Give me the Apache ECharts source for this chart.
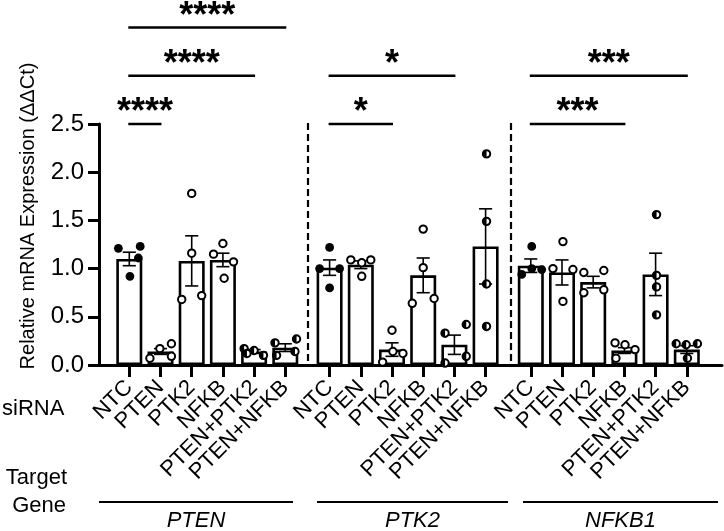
<!doctype html>
<html>
<head>
<meta charset="utf-8">
<title>siRNA knockdown qPCR</title>
<style>
html, body { margin: 0; padding: 0; background: #fff; }
#main { width: 724px; height: 531px; }
</style>
</head>
<body>
<div id="main"></div>
<script src="https://cdn.jsdelivr.net/npm/echarts@6/dist/echarts.min.js"></script>
<script>
// ---- data ----
var sirna = ['NTC', 'PTEN', 'PTK2', 'NFKB', 'PTEN+PTK2', 'PTEN+NFKB'];
var genes = ['PTEN', 'PTK2', 'NFKB1'];
var yTicks = [0, 0.5, 1.0, 1.5, 2.0, 2.5];

var meanPTEN = [1.10, 0.14, 1.08, 1.09, 0.14, 0.18];
var semPTEN  = [0.07, 0.03, 0.26, 0.07, 0.02, 0.04];
var ptsPTEN  = [[1.21, 1.23, 1.11, 0.92], [0.07, 0.17, 0.22, 0.09], [1.78, 1.16, 0.68, 0.72],
                [1.15, 1.26, 1.07, 0.90], [0.17, 0.12, 0.15, 0.10], [0.23, 0.10, 0.27, 0.14]];

var meanPTK2 = [1.01, 1.04, 0.16, 0.93, 0.21, 1.23];
var semPTK2  = [0.08, 0.04, 0.07, 0.18, 0.10, 0.39];
var ptsPTK2  = [[1.22, 1.00, 1.00, 0.80], [1.09, 1.06, 1.09, 0.92], [0.36, 0.03, 0.14, 0.12],
                [1.41, 1.01, 0.64, 0.69], [0.33, 0.42, 0.09, 0.02], [2.19, 1.49, 0.84, 0.40]];

var meanNFKB1 = [1.03, 0.96, 0.86, 0.15, 0.94, 0.16];
var semNFKB1  = [0.07, 0.13, 0.06, 0.03, 0.22, 0.04];
var ptsNFKB1  = [[1.23, 0.94, 1.00, 0.99], [1.28, 1.00, 0.99, 0.66], [0.96, 0.98, 0.75, 0.78],
                 [0.23, 0.21, 0.16, 0.07], [1.56, 0.93, 0.81, 0.52], [0.22, 0.21, 0.22, 0.07]];

// significance brackets: [from siRNA, to siRNA, height, stars]
var sigPTEN  = [[0, 5, 3.5, '****'], [0, 4, 3.0, '****'], [0, 1, 2.5, '****']];
var sigPTK2  = [[0, 4, 3.0, '*'], [0, 2, 2.5, '*']];
var sigNFKB1 = [[0, 5, 3.0, '***'], [0, 3, 2.5, '***']];

// ---- layout / style ----
// marker per siRNA: 0 filled, 1 open, 2 half filled
var markerKind = [0, 1, 1, 1, 2, 2];
// horizontal spread of replicate dots inside a bar (category units)
var jitPTEN  = [[-0.35, 0.35, 0.29, 0.02], [-0.34, -0.02, 0.35, 0.35], [0, 0, -0.32, 0.32],
                [-0.3, 0, 0.34, 0.04], [-0.32, -0.23, 0, 0.3], [-0.33, -0.28, 0.36, 0.31]];
var jitPTK2  = [[0, -0.32, 0.32, 0], [-0.32, 0.03, 0.32, 0.03], [0, -0.3, 0.03, 0.35],
                [0, 0, -0.35, 0.35], [-0.3, 0.38, 0.38, -0.3], [0.03, 0.03, 0.03, 0.03]];
var jitNFKB1 = [[0.03, -0.29, 0.03, 0.35], [0.03, -0.29, 0.35, 0.03], [-0.3, 0.34, -0.3, 0.34],
                [-0.3, 0.02, 0.34, -0.27], [0.03, 0.03, 0.03, 0.03], [-0.34, -0.02, 0.34, 0.02]];

var FONT = "'Liberation Sans', Arial, sans-serif";
var TOP = 124, BOTTOM = 166, AXL = 99;
var groupLeft = [113.7, 314.0, 515.2];
var groupW = 187.2;
var dashX = [308, 511];
var geneLine = [[99, 293], [317, 508], [523, 718]];

var groups = [
    { mean: meanPTEN, sem: semPTEN, pts: ptsPTEN, jit: jitPTEN, sig: sigPTEN },
    { mean: meanPTK2, sem: semPTK2, pts: ptsPTK2, jit: jitPTK2, sig: sigPTK2 },
    { mean: meanNFKB1, sem: semNFKB1, pts: ptsNFKB1, jit: jitNFKB1, sig: sigNFKB1 }
];

function renderErr(params, api) {
    var x = api.value(0), m = api.value(1), s = api.value(2);
    var top = api.coord([x, m + s]), bot = api.coord([x, m - s]);
    var l = api.coord([x - 0.21, m])[0], r = api.coord([x + 0.21, m])[0];
    var st = { stroke: '#000', lineWidth: 1.6 };
    return { type: 'group', children: [
        { type: 'line', shape: { x1: top[0], y1: top[1], x2: bot[0], y2: bot[1] }, style: st },
        { type: 'line', shape: { x1: l, y1: top[1], x2: r, y2: top[1] }, style: st },
        { type: 'line', shape: { x1: l, y1: bot[1], x2: r, y2: bot[1] }, style: st }
    ] };
}

function renderPt(params, api) {
    var p = api.coord([api.value(0), api.value(1)]);
    var kind = api.value(2);
    if (kind === 0) {
        return { type: 'circle', shape: { cx: p[0], cy: p[1], r: 4.4 }, style: { fill: '#000' } };
    }
    var ring = { type: 'circle', shape: { cx: p[0], cy: p[1], r: 3.7 },
                 style: { fill: '#fff', stroke: '#000', lineWidth: 2 } };
    if (kind === 1) return ring;
    return { type: 'group', children: [ring,
        { type: 'sector', shape: { cx: p[0], cy: p[1], r0: 0, r: 3.9,
            startAngle: Math.PI / 2, endAngle: Math.PI * 1.5, clockwise: true },
          style: { fill: '#000' } }
    ] };
}

function makeSig(list) {
    return function (params, api) {
        var a = api.coord([api.value(0), api.value(2)]);
        var b = api.coord([api.value(1), api.value(2)]);
        return { type: 'group', children: [
            { type: 'line', shape: { x1: a[0] - 1, y1: a[1], x2: b[0] + 1, y2: b[1] },
              style: { stroke: '#000', lineWidth: 2.5 } },
            { type: 'text', x: (a[0] + b[0]) / 2, y: a[1] - 11,
              style: { text: list[params.dataIndex][3], font: 'bold 36px ' + FONT, fill: '#000',
                       align: 'center', verticalAlign: 'middle', textAlign: 'center', textVerticalAlign: 'middle' } }
        ] };
    };
}

var grid = [{ left: AXL, right: 2, top: TOP, bottom: BOTTOM }];
var xAxis = [{
    type: 'value', gridIndex: 0, min: 0, max: 1,
    axisLine: { show: true, lineStyle: { color: '#000', width: 3 } },
    axisTick: { show: false }, axisLabel: { show: false }, splitLine: { show: false }
}];
var yAxis = [{
    type: 'value', gridIndex: 0, min: 0, max: 2.5, interval: 0.5,
    axisLine: { show: true, lineStyle: { color: '#000', width: 3 } },
    axisTick: { show: true, length: 11, lineStyle: { color: '#000', width: 3 } },
    axisLabel: { color: '#000', fontSize: 24, fontFamily: FONT, margin: 15,
                 customValues: yTicks, formatter: function (v) { return v.toFixed(1); } },
    splitLine: { show: false }
}];
var series = [];

groups.forEach(function (g, gi) {
    grid.push({ left: groupLeft[gi], width: groupW, top: TOP, bottom: BOTTOM });
    var gIdx = gi + 1;
    xAxis.push({
        type: 'category', gridIndex: gIdx, data: sirna,
        axisLine: { show: false },
        axisTick: { show: true, alignWithLabel: true, length: 12, lineStyle: { color: '#000', width: 3 } },
        axisLabel: { interval: 0, rotate: 45, color: '#000', fontSize: 22, fontFamily: FONT, margin: 19 }
    });
    yAxis.push({ type: 'value', gridIndex: gIdx, min: 0, max: 2.5, show: false });
    var catAxis = xAxis.length - 1;
    xAxis.push({ type: 'value', gridIndex: gIdx, min: -0.5, max: 5.5, show: false });
    var valAxis = xAxis.length - 1;

    series.push({
        type: 'bar', xAxisIndex: catAxis, yAxisIndex: gIdx, data: g.mean, barWidth: 26,
        itemStyle: { color: '#fff', borderColor: '#000', borderWidth: 2.6 }, z: 2, silent: true
    });
    series.push({
        type: 'custom', xAxisIndex: valAxis, yAxisIndex: gIdx, renderItem: renderErr, z: 3, silent: true,
        encode: { x: 0, y: 1 },
        data: g.mean.map(function (m, i) { return [i, m, g.sem[i]]; })
    });
    var pdata = [];
    g.pts.forEach(function (arr, i) {
        arr.forEach(function (v, k) { pdata.push([i + g.jit[i][k], v, markerKind[i]]); });
    });
    series.push({
        type: 'custom', xAxisIndex: valAxis, yAxisIndex: gIdx, renderItem: renderPt, z: 4, silent: true,
        encode: { x: 0, y: 1 }, data: pdata
    });
    series.push({
        type: 'custom', xAxisIndex: valAxis, yAxisIndex: gIdx, renderItem: makeSig(g.sig), z: 5, silent: true,
        clip: false, encode: { x: [0, 1], y: 2 },
        data: g.sig.map(function (s) { return [s[0], s[1], s[2]]; })
    });
});

var graphic = [
    { type: 'text', x: 28, y: 216, rotation: Math.PI / 2,
      style: { text: 'Relative mRNA Expression (ΔΔCt)', font: '20px ' + FONT, fill: '#000',
               align: 'center', verticalAlign: 'middle', textAlign: 'center', textVerticalAlign: 'middle' } },
    { type: 'text', x: 2, y: 409,
      style: { text: 'siRNA', font: '22px ' + FONT, fill: '#000', align: 'left', verticalAlign: 'middle',
               textAlign: 'left', textVerticalAlign: 'middle' } },
    { type: 'text', x: 67, y: 478,
      style: { text: 'Target', font: '22px ' + FONT, fill: '#000', align: 'right', verticalAlign: 'middle',
               textAlign: 'right', textVerticalAlign: 'middle' } },
    { type: 'text', x: 66, y: 506,
      style: { text: 'Gene', font: '22px ' + FONT, fill: '#000', align: 'right', verticalAlign: 'middle',
               textAlign: 'right', textVerticalAlign: 'middle' } }
];
dashX.forEach(function (x) {
    graphic.push({ type: 'line', shape: { x1: x, y1: 123, x2: x, y2: 364 },
                   style: { stroke: '#000', lineWidth: 2.2, lineDash: [7, 4] } });
});
geneLine.forEach(function (ln, i) {
    graphic.push({ type: 'line', shape: { x1: ln[0], y1: 502, x2: ln[1], y2: 502 },
                   style: { stroke: '#000', lineWidth: 2 } });
    graphic.push({ type: 'text', x: (ln[0] + ln[1]) / 2, y: 521,
                   style: { text: genes[i], font: 'italic 22px ' + FONT, fill: '#000', align: 'center',
                            verticalAlign: 'middle', textAlign: 'center', textVerticalAlign: 'middle' } });
});

echarts.init(document.getElementById('main')).setOption({
    animation: false,
    backgroundColor: '#fff',
    grid: grid,
    xAxis: xAxis,
    yAxis: yAxis,
    series: series,
    graphic: graphic
});
</script>
</body>
</html>
